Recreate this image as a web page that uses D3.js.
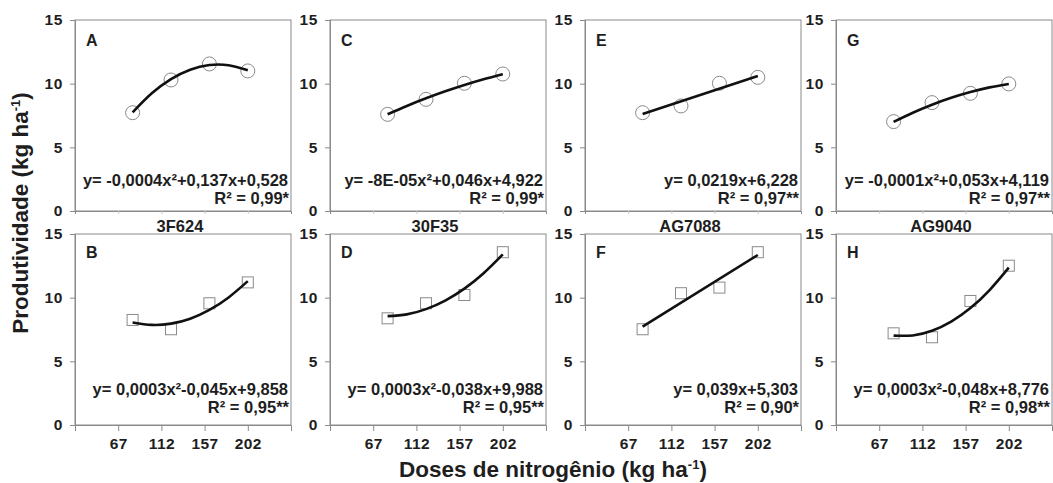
<!DOCTYPE html>
<html><head><meta charset="utf-8">
<script src="https://cdn.jsdelivr.net/npm/d3@7"></script>
<style>
body{margin:0;background:#fff;}
text{font-family:"Liberation Sans",Arial,sans-serif;font-weight:bold;fill:#1e1e1e;}
</style></head>
<body><svg id="c" width="1053" height="483"></svg>
<script>
// ---- data ----
const doses = [82, 122, 162, 202];
const fitX = [82, 102, 122, 142, 162, 182, 202];
const xTicks = [67, 112, 157, 202];
const yTicks = [0, 5, 10, 15];
const hybrids = ["3F624", "30F35", "AG7088", "AG9040"];

const obsA = [7.72, 10.29, 11.55, 11.0];
const fitA = [7.75, 9.24, 10.36, 11.1, 11.46, 11.44, 11.05];
const obsB = [8.25, 7.52, 9.56, 11.2];
const fitB = [8.05, 7.86, 7.96, 8.35, 9.04, 10.02, 11.3];
const obsC = [7.59, 8.77, 10.03, 10.76];
const fitC = [7.6, 8.25, 8.85, 9.4, 9.9, 10.35, 10.75];
const obsD = [8.38, 9.56, 10.21, 13.57];
const fitD = [8.55, 8.69, 9.1, 9.77, 10.71, 11.92, 13.4];
const obsE = [7.72, 8.25, 10.03, 10.5];
const fitE = [7.62, null, null, null, null, null, 10.6];
const obsF = [7.52, 10.35, 10.79, 13.57];
const fitF = [7.72, null, null, null, null, null, 13.35];
const obsG = [7.02, 8.51, 9.24, 9.98];
const fitG = [7.0, 7.72, 8.35, 8.89, 9.34, 9.71, 9.98];
const obsH = [7.2, 6.89, 9.74, 12.51];
const fitH = [7.02, 7.035, 7.4, 8.115, 9.18, 10.6, 12.36];

const letters = ["A","B","C","D","E","F","G","H"];
const equations = [
  "y= -0,0004x²+0,137x+0,528", "y= 0,0003x²-0,045x+9,858",
  "y= -8E-05x²+0,046x+4,922", "y= 0,0003x²-0,038x+9,988",
  "y= 0,0219x+6,228", "y= 0,039x+5,303",
  "y= -0,0001x²+0,053x+4,119", "y= 0,0003x²-0,048x+8,776"];
const r2s = ["R² = 0,99*", "R² = 0,95**", "R² = 0,99*", "R² = 0,95**",
  "R² = 0,97**", "R² = 0,90*", "R² = 0,97**", "R² = 0,98**"];
const obsList = [obsA, obsB, obsC, obsD, obsE, obsF, obsG, obsH];
const fitList = [fitA, fitB, fitC, fitD, fitE, fitF, fitG, fitH];

// ---- layout ----
const colLeft = [75, 330, 585, 836];
const rowTop = [20, 234];
const plotW = 216, plotH = 191;
const frameColor = "#8a8a8a";

const svg = d3.select("#c");

for (let i = 0; i < 8; i++) {
  const col = Math.floor(i / 2), row = i % 2;
  const L = colLeft[col], T = rowTop[row];
  const x = d3.scaleLinear().domain([22, 247]).range([L, L + plotW]);
  const y = d3.scaleLinear().domain([0, 15]).range([T + plotH, T]);
  const g = svg.append("g");

  // frame
  g.append("rect").attr("x", L).attr("y", T).attr("width", plotW).attr("height", plotH)
    .attr("fill", "none").attr("stroke", frameColor).attr("stroke-width", 1);

  // y axis
  const ya = g.append("g").attr("transform", `translate(${L},0)`)
    .call(d3.axisLeft(y).tickValues(yTicks).tickSize(5).tickPadding(7));
  ya.select(".domain").attr("stroke", frameColor);
  ya.selectAll(".tick line").attr("stroke", frameColor);
  ya.selectAll("text").style("font-size", "15.5px").style("letter-spacing", "0.6px").attr("fill", "#1e1e1e");

  // x axis
  const xa = g.append("g").attr("transform", `translate(0,${T + plotH})`)
    .call(d3.axisBottom(x).tickValues(xTicks).tickSize(row === 1 ? 6 : 3).tickPadding(7)
      .tickFormat(row === 1 ? d3.format("d") : () => ""));
  xa.select(".domain").attr("stroke", frameColor);
  xa.selectAll(".tick line").attr("stroke", row === 1 ? frameColor : "#c8c8c8");
  xa.selectAll("text").style("font-size", "15.5px").style("letter-spacing", "0.4px").attr("fill", "#1e1e1e");

  // markers
  const obs = obsList[i];
  if (row === 0) {
    g.selectAll("circle.m").data(obs).join("circle").attr("class", "m")
      .attr("cx", (d, k) => x(doses[k])).attr("cy", d => y(d)).attr("r", 7)
      .attr("fill", "#fff").attr("stroke", "#8a8a8a").attr("stroke-width", 1);
  } else {
    g.selectAll("rect.m").data(obs).join("rect").attr("class", "m")
      .attr("x", (d, k) => x(doses[k]) - 5.5).attr("y", d => y(d) - 5.5)
      .attr("width", 11).attr("height", 11)
      .attr("fill", "#fff").attr("stroke", "#8a8a8a").attr("stroke-width", 1);
  }

  // fitted curve
  const pts = fitList[i].map((v, k) => [fitX[k], v]).filter(p => p[1] !== null);
  const line = d3.line().x(p => x(p[0])).y(p => y(p[1])).curve(d3.curveNatural);
  g.append("path").attr("d", line(pts)).attr("fill", "none")
    .attr("stroke", "#111").attr("stroke-width", 2.6);

  // panel letter
  g.append("text").attr("x", L + 11).attr("y", T + (row === 0 ? 26 : 24))
    .style("font-size", "16px").text(letters[i]);

  // equation
  const eb = row === 0 ? 25 : 30;
  g.append("text").attr("x", L + plotW - 3).attr("y", T + plotH - eb)
    .attr("text-anchor", "end").style("font-size", "16.5px").text(equations[i]);
  g.append("text").attr("x", L + plotW - 2).attr("y", T + plotH - eb + 18)
    .attr("text-anchor", "end").style("font-size", "16.5px").text(r2s[i]);

  // hybrid title (between rows)
  if (row === 0) {
    g.append("text").attr("x", L + plotW / 2 - 3).attr("y", 232)
      .attr("text-anchor", "middle").style("font-size", "16.5px").text(hybrids[col]);
  }
}

// axis titles
const yl = svg.append("text").attr("transform", "translate(28,213) rotate(-90)")
  .attr("text-anchor", "middle").style("font-size", "22.5px");
yl.append("tspan").text("Produtividade (kg ha");
yl.append("tspan").attr("dy", -8).style("font-size", "13px").text("-1");
yl.append("tspan").attr("dy", 8).text(")");

const xl = svg.append("text").attr("x", 553).attr("y", 477)
  .attr("text-anchor", "middle").style("font-size", "22.5px");
xl.append("tspan").text("Doses de nitrogênio (kg ha");
xl.append("tspan").attr("dy", -8).style("font-size", "13px").text("-1");
xl.append("tspan").attr("dy", 8).text(")");
</script></body></html>
